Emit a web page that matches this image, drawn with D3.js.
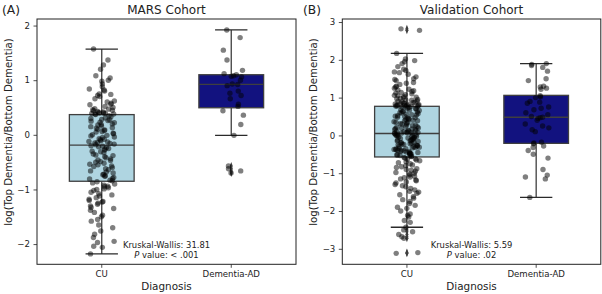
<!DOCTYPE html>
<html>
<head>
<meta charset="utf-8">
<script src="https://cdn.jsdelivr.net/npm/d3@7"></script>
<style>
  body { margin: 0; background: #fff; }
  text { font-family: "DejaVu Sans", sans-serif; fill: #222; }
</style>
</head>
<body>
<div id="chart"></div>
<script>
/* DATA */
const categories = ["CU", "Dementia-AD"];

// MARS cohort, values
const marsCU = [
  1.57, 1.37, 1.28, 1.20, 1.08, 1.04, 1.00, 0.98, 0.93, 0.88, 0.84, 0.82, 0.80, 0.75, 0.74, 0.72,
  0.70, 0.66, 0.62, 0.60, 0.58, 0.56, 0.55, 0.52, 0.50, 0.48, 0.47, 0.46, 0.45, 0.44, 0.43, 0.42,
  0.41, 0.40, 0.40, 0.39, 0.39, 0.38, 0.38, 0.37,
  0.35, 0.33, 0.31, 0.30, 0.28, 0.27, 0.26, 0.25, 0.23, 0.22, 0.20, 0.19, 0.18, 0.16, 0.15, 0.13,
  0.12, 0.10, 0.09, 0.08, 0.06, 0.05, 0.03, 0.02, 0.00, -0.01, -0.02, -0.04, -0.05, -0.07, -0.08,
  -0.09, -0.11, -0.12, -0.13, -0.14, -0.15, -0.16, -0.17, -0.18,
  -0.20, -0.21, -0.22, -0.23, -0.25, -0.26, -0.28, -0.30, -0.31, -0.33, -0.35, -0.37, -0.38, -0.40,
  -0.42, -0.44, -0.46, -0.47, -0.49, -0.50, -0.52, -0.54, -0.55, -0.57, -0.58, -0.60, -0.62, -0.64,
  -0.66, -0.68, -0.70, -0.72, -0.73, -0.75, -0.76, -0.78, -0.80, -0.81, -0.83, -0.84,
  -0.86, -0.88, -0.90, -0.92, -0.94, -0.95, -0.97, -0.99, -1.00, -1.02, -1.05, -1.08, -1.10, -1.12,
  -1.15, -1.18, -1.20, -1.22, -1.23, -1.25, -1.27, -1.30, -1.33, -1.35, -1.38, -1.42, -1.47, -1.50,
  -1.55, -1.58, -1.65, -1.70, -1.76, -1.82, -1.88, -1.95, -1.97, -2.04, -2.06, -2.18
];
const marsAD = [
  1.92, 1.78, 1.55, 1.37, 1.18, 1.12, 1.10, 1.08, 1.07, 1.06, 1.00, 0.93, 0.92, 0.90, 0.80, 0.76,
  0.72, 0.66, 0.56, 0.52, 0.44, 0.36, 0.19, -0.01, -0.57, -0.62, -0.66, -0.70
];
// validation cohort
const valCU = [
  2.82, 2.78, 2.17, 2.02, 1.98, 1.95, 1.90, 1.82, 1.75, 1.72, 1.68, 1.66, 1.62, 1.55, 1.50, 1.48,
  1.45, 1.40, 1.38, 1.35, 1.30, 1.28, 1.25, 1.22, 1.20, 1.18, 1.16, 1.14, 1.12, 1.10, 1.08, 1.06,
  1.05, 1.03, 1.01, 1.00, 0.98, 0.97, 0.95, 0.94, 0.93, 0.91, 0.90, 0.89, 0.88, 0.87, 0.86, 0.85,
  0.84, 0.83, 0.82, 0.81, 0.80, 0.80, 0.79, 0.79, 0.78, 0.78, 0.77, 0.77,
  0.76, 0.75, 0.74, 0.72, 0.71, 0.70, 0.68, 0.67, 0.66, 0.64, 0.63, 0.62, 0.60, 0.59, 0.58, 0.56,
  0.55, 0.54, 0.52, 0.51, 0.50, 0.48, 0.47, 0.46, 0.44, 0.43, 0.42, 0.40, 0.39, 0.38, 0.36, 0.35,
  0.34, 0.32, 0.31, 0.30, 0.28, 0.27, 0.26, 0.24, 0.23, 0.22, 0.20, 0.19, 0.18, 0.17, 0.16, 0.15,
  0.14, 0.13, 0.12, 0.11, 0.10, 0.09, 0.08, 0.08, 0.07, 0.06, 0.06, 0.05,
  0.04, 0.03, 0.02, 0.01, 0.00, -0.01, -0.02, -0.03, -0.04, -0.05, -0.06, -0.07, -0.08, -0.09,
  -0.10, -0.11, -0.12, -0.13, -0.14, -0.15, -0.16, -0.18, -0.19, -0.20, -0.21, -0.22, -0.23, -0.24,
  -0.25, -0.26, -0.27, -0.28, -0.29, -0.30, -0.31, -0.32, -0.33, -0.34, -0.35, -0.36, -0.37, -0.38,
  -0.39, -0.40, -0.41, -0.42, -0.43, -0.44, -0.45, -0.46, -0.47, -0.48, -0.49, -0.50, -0.51, -0.52,
  -0.53, -0.54, -0.55, -0.56,
  -0.58, -0.60, -0.62, -0.63, -0.65, -0.67, -0.70, -0.72, -0.75, -0.78, -0.80, -0.83, -0.85, -0.88,
  -0.90, -0.92, -0.95, -0.98, -1.00, -1.02, -1.05, -1.08, -1.10, -1.12, -1.15, -1.18, -1.20, -1.23,
  -1.26, -1.30, -1.33, -1.36, -1.40, -1.44, -1.48, -1.50, -1.53, -1.57, -1.62, -1.66, -1.70, -1.75,
  -1.80, -1.85, -1.90, -1.93, -2.00, -2.08, -2.12, -2.16, -2.25, -2.30, -2.43, -2.50, -2.55, -2.62,
  -2.68, -2.72, -3.10, -3.12
];
const valAD = [
  1.90, 1.88, 1.85, 1.80, 1.70, 1.50, 1.45, 1.30, 1.28, 1.25, 1.22, 1.05, 1.02, 1.00, 0.90, 0.88,
  0.85, 0.75, 0.72, 0.68, 0.60, 0.55, 0.50, 0.48, 0.47, 0.45, 0.40, 0.30, 0.25, 0.20, 0.15, 0.10,
  -0.18, -0.20, -0.22, -0.28, -0.32, -0.40, -0.50, -0.60, -0.90, -1.05, -1.10, -1.15, -1.64
];

// box stats: [whiskerLow, q1, median, q3, whiskerHigh]
const marsBoxes = [[-2.18, -0.85, -0.19, 0.37, 1.57], [-0.01, 0.495, 0.925, 1.10, 1.92]];
const valBoxes = [[-2.43, -0.57, 0.05, 0.77, 2.17], [-1.64, -0.21, 0.48, 1.06, 1.90]];

const marsTicks = [-2, -1, 0, 1, 2];
const valTicks = [-3, -2, -1, 0, 1, 2, 3];

const boxColors = ["#afd5e1", "#12127f"];

/* LAYOUT */
const width = 602, height = 294;
const plotTop = 19, plotBottom = 264.3;

// deterministic jitter in [-0.5, 0.5)
const jit = k => {
  const s = Math.sin(k * 12.9898 + 78.233) * 43758.5453;
  return s - Math.floor(s) - 0.5;
};

const svg = d3.select("#chart").append("svg")
  .attr("width", width)
  .attr("height", height);

const panels = [
  { tag: "(A)", title: "MARS Cohort", left: 37, right: 296, domain: [-2.37, 2.12],
    ticks: marsTicks, groups: [marsCU, marsAD], boxes: marsBoxes, labelX: 11.5,
    stat: "Kruskal-Wallis: 31.81", p: " value: < .001", tagX: 2 },
  { tag: "(B)", title: "Validation Cohort", left: 342.3, right: 600.8, domain: [-3.41, 3.08],
    ticks: valTicks, groups: [valCU, valAD], boxes: valBoxes, labelX: 316.5,
    stat: "Kruskal-Wallis: 5.59", p: " value: .02", tagX: 303 }
];

panels.forEach((p, pi) => {
  const g = svg.append("g");

  const x = d3.scaleBand().domain(categories).range([p.left, p.right]).padding(0);
  const y = d3.scaleLinear().domain(p.domain).range([plotBottom, plotTop]);
  const bw = x.bandwidth() * 0.5;
  const cx = c => x(c) + x.bandwidth() / 2;

  // boxes
  p.boxes.forEach((b, i) => {
    const c = cx(categories[i]);
    const bx = g.append("g");
    bx.append("line").attr("x1", c).attr("x2", c).attr("y1", y(b[3])).attr("y2", y(b[4]))
      .attr("stroke", "#3f3f3f").attr("stroke-width", 1.3);
    bx.append("line").attr("x1", c).attr("x2", c).attr("y1", y(b[1])).attr("y2", y(b[0]))
      .attr("stroke", "#3f3f3f").attr("stroke-width", 1.3);
    [b[0], b[4]].forEach(v => {
      bx.append("line").attr("x1", c - bw / 4).attr("x2", c + bw / 4).attr("y1", y(v)).attr("y2", y(v))
        .attr("stroke", "#2a2a2a").attr("stroke-width", 1.3);
    });
    bx.append("rect")
      .attr("x", c - bw / 2).attr("width", bw)
      .attr("y", y(b[3])).attr("height", y(b[1]) - y(b[3]))
      .attr("fill", boxColors[i]).attr("stroke", "#3f3f3f").attr("stroke-width", 1.3);
    bx.append("line").attr("x1", c - bw / 2).attr("x2", c + bw / 2).attr("y1", y(b[2])).attr("y2", y(b[2]))
      .attr("stroke", "#3f3f3f").attr("stroke-width", 1.3);

    // fliers as diamonds at the center
    const fl = p.groups[i].filter(v => v < b[0] - 1e-9 || v > b[4] + 1e-9);
    bx.selectAll("path.flier").data(fl).join("path")
      .attr("class", "flier")
      .attr("d", d3.symbol(d3.symbolDiamond, 14))
      .attr("transform", d => `translate(${c},${y(d)}) scale(0.75,1.15)`)
      .attr("fill", "#3f3f3f");
  });

  // strip points (deterministic jitter of +-0.1 band)
  p.groups.forEach((vals, i) => {
    const c = cx(categories[i]);
    g.selectAll(null).data(vals).join("circle")
      .attr("cx", (d, k) => c + jit(k + 500 * i + 1000 * pi) * 0.2 * x.bandwidth())
      .attr("cy", d => y(d))
      .attr("r", 2.7)
      .attr("fill", "#000")
      .attr("fill-opacity", 0.5);
  });

  // axes
  const yAxis = d3.axisLeft(y).tickValues(p.ticks).tickFormat(d3.format("d"))
    .tickSize(3.5).tickPadding(3.5).tickSizeOuter(0);
  const ya = g.append("g").attr("transform", `translate(${p.left},0)`).call(yAxis);
  ya.select(".domain").remove();
  ya.selectAll("text").attr("font-size", 8.6).attr("font-family", "DejaVu Sans").attr("fill", "#222");
  ya.selectAll("line").attr("stroke", "#222").attr("stroke-width", 0.8);

  const xAxis = d3.axisBottom(x).tickSize(3.5).tickPadding(3.5).tickSizeOuter(0);
  const xa = g.append("g").attr("transform", `translate(0,${plotBottom})`).call(xAxis);
  xa.select(".domain").remove();
  xa.selectAll("text").attr("font-size", 8.6).attr("font-family", "DejaVu Sans").attr("fill", "#222");
  xa.selectAll("line").attr("stroke", "#222").attr("stroke-width", 0.8);

  // frame
  g.append("rect")
    .attr("x", p.left).attr("y", plotTop)
    .attr("width", p.right - p.left).attr("height", plotBottom - plotTop)
    .attr("fill", "none").attr("stroke", "#222").attr("stroke-width", 1);

  // titles and labels
  g.append("text").attr("x", (p.left + p.right) / 2).attr("y", 14)
    .attr("text-anchor", "middle").attr("font-size", 12).text(p.title);
  g.append("text").attr("x", p.tagX).attr("y", 14).attr("font-size", 12.3).text(p.tag);
  g.append("text").attr("x", (p.left + p.right) / 2).attr("y", 289.5)
    .attr("text-anchor", "middle").attr("font-size", 10.4).text("Diagnosis");
  g.append("text")
    .attr("transform", `translate(${p.labelX},132)rotate(-90)`)
    .attr("text-anchor", "middle").attr("font-size", 10.2)
    .text("log(Top Dementia/Bottom Dementia)");

  // statistics annotation
  const mid = (p.left + p.right) / 2;
  g.append("text").attr("x", mid).attr("y", 247.5)
    .attr("text-anchor", "middle").attr("font-size", 8.4).text(p.stat);
  const t2 = g.append("text").attr("x", mid).attr("y", 257.5)
    .attr("text-anchor", "middle").attr("font-size", 8.4);
  t2.append("tspan").attr("font-style", "italic").text("P");
  t2.append("tspan").text(p.p);
});
</script>
</body>
</html>
